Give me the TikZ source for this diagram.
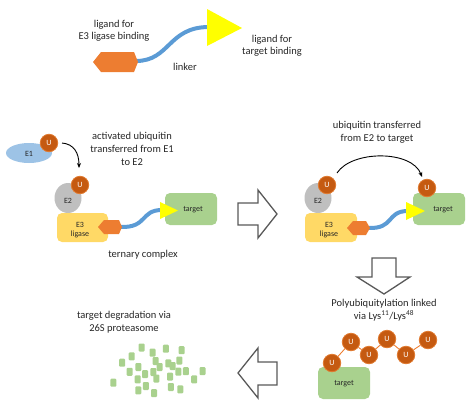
\documentclass[tikz,border=0pt]{standalone}
\usepackage{fontspec}
\setmainfont{Carlito}
\usetikzlibrary{arrows.meta}
\definecolor{txt}{HTML}{262626}
\definecolor{ubqfill}{HTML}{C55A11}
\definecolor{ubqedge}{HTML}{E07A30}
\definecolor{hexc}{HTML}{ED7D31}
\definecolor{linkc}{HTML}{5B9BD5}
\definecolor{tric}{HTML}{FFFF00}
\definecolor{eonec}{HTML}{9DC3E6}
\definecolor{etwoc}{HTML}{BFBFBF}
\definecolor{ethreec}{HTML}{FFD966}
\definecolor{targc}{HTML}{A9D18E}
\definecolor{arrgrey}{HTML}{595959}
\tikzset{
  lbl/.style={align=center, inner sep=0, text=txt},
  small/.style={font=\fontsize{8}{9.5}\selectfont, inner sep=0, text=txt},
  ubq/.style={circle, fill=ubqfill, draw=ubqedge, line width=0.8pt, minimum size=17.5pt, inner sep=0, text=white, font=\fontsize{8}{9}\selectfont},
  linker/.style={draw=linkc, line width=4pt},
  blockarrow/.style={draw=arrgrey, line width=1.3pt, fill=white, line join=miter},
  frag/.style={fill=targc, rounded corners=1pt},
  hexshape/.style={fill=hexc},
  tri/.style={fill=tric},
  targbox/.style={fill=targc, rounded corners=5pt},
  ethree/.style={fill=ethreec, rounded corners=5pt},
  thinarrow/.style={-{Stealth[length=5pt,width=4pt]}, line width=0.9pt, black},
  chainlink/.style={draw=hexc, line width=0.9pt}
}
\begin{document}
\begin{tikzpicture}[x=1pt,y=-1pt, font=\fontsize{10.5}{13}\selectfont]
\useasboundingbox (0,0) rectangle (474,407);

% ---------- top: PROTAC ----------
\coordinate (hexTopR) at (136,61);
\coordinate (triTopL) at (209,27);
\draw[linker] (hexTopR) .. controls (170,61) and (168,27) .. (triTopL);
\fill[hexshape] (93,62) -- (101,52) -- (134,52) -- (138,62) -- (134,72) -- (101,72) -- cycle;
\fill[tri] (207,9) -- (242,28) -- (207,46) -- cycle;
\node[lbl, font=\fontsize{10.5}{12}\selectfont] (ligE3) at (114,31) {ligand for\\E3 ligase binding};
\node[lbl, font=\fontsize{10.5}{12}\selectfont] (ligT) at (272,46) {ligand for\\target binding};
\node[lbl] (linkerlbl) at (185,67) {linker};

% ---------- ternary complex (left) ----------
\fill[eonec] (29,153) ellipse [x radius=23, y radius=10];
\node[small] (E1) at (29,154) {E1};
\node[ubq] (U1) at (49,143) {U};
\node[lbl] (act) at (132,149) {activated ubiquitin\\transferred from E1\\to E2};
\coordinate (arrL1) at (62,143);
\coordinate (arrL2) at (79,168);
\draw[thinarrow] (arrL1) .. controls (74,144) and (79,153) .. (arrL2);

\fill[etwoc] (68,198) ellipse [x radius=13.5, y radius=15];
\node[small] (E2a) at (68,201) {E2};
\node[ubq] (U2) at (80,185) {U};
\fill[ethree] (57,213) rectangle (108,242);
\node[small, align=center] (E3a) at (80,230) {E3\\ligase};
\fill[targbox] (165,193) rectangle (217,225);
\node[small] (tgtA) at (193,210) {target};
\coordinate (hexAR) at (120,227);
\coordinate (triAL) at (162,210);
\draw[linker] (hexAR) .. controls (148,228) and (140,210) .. (triAL);
\fill[hexshape] (98,227) -- (104,220) -- (119,220) -- (122,227) -- (119,234) -- (104,234) -- cycle;
\fill[tri] (160,202) -- (178,210.5) -- (160,219) -- cycle;
\node[lbl] (tern) at (143,255) {ternary complex};

% ---------- block arrow right ----------
\draw[blockarrow] (238,203) -- (258,203) -- (258,190) -- (277,214) -- (258,238) -- (258,225) -- (238,225) -- cycle;

% ---------- ternary complex (right) ----------
\node[lbl] (transf) at (377,132) {ubiquitin transferred\\from E2 to target};
\fill[etwoc] (318,198) ellipse [x radius=13.5, y radius=15];
\node[small] (E2b) at (318,201) {E2};
\fill[ethree] (305,213) rectangle (357,242);
\node[small, align=center] (E3b) at (329,230) {E3\\ligase};
\fill[targbox] (413,193) rectangle (465,225);
\node[small] (tgtB) at (443,210) {target};
\coordinate (hexBR) at (368,228);
\coordinate (triBL) at (408,211);
\draw[linker] (hexBR) .. controls (395,229) and (386,211) .. (triBL);
\fill[hexshape] (347,228) -- (353,221) -- (366,221) -- (370,228) -- (366,235) -- (353,235) -- cycle;
\fill[tri] (406,202) -- (425,211) -- (406,220) -- cycle;
\node[ubq] (U3) at (327,185) {U};
\node[ubq] (U4) at (427,188) {U};
\coordinate (arcS) at (337,173);
\coordinate (arcE) at (422,177);
\draw[thinarrow] (arcS) .. controls (352,150) and (412,150) .. (arcE);

% ---------- block arrow down ----------
\draw[blockarrow] (372,258) -- (396,258) -- (396,277) -- (410,277) -- (384,294) -- (357,277) -- (372,277) -- cycle;

% ---------- polyubiquitylation ----------
\node[lbl] (poly) at (384,310) {Polyubiquitylation linked\\via Lys\textsuperscript{11}/Lys\textsuperscript{48}};
\fill[targbox] (318,367) rectangle (370,399);
\node[small] (tgtC) at (344,384) {target};
\node[ubq] (c1) at (332,363) {U};
\node[ubq] (c2) at (351,342) {U};
\node[ubq] (c3) at (369,355) {U};
\node[ubq] (c4) at (387,339) {U};
\node[ubq] (c5) at (406,355) {U};
\node[ubq] (c6) at (428,340) {U};
\draw[chainlink] (c1) -- (c2);
\draw[chainlink] (c2) -- (c3);
\draw[chainlink] (c3) -- (c4);
\draw[chainlink] (c4) -- (c5);
\draw[chainlink] (c5) -- (c6);

% ---------- block arrow left ----------
\draw[blockarrow] (277,362) -- (258,362) -- (258,348) -- (238,373) -- (258,398) -- (258,385) -- (277,385) -- cycle;

% ---------- degradation ----------
\node[lbl] (degr) at (124,322) {target degradation via\\26S proteasome};
\foreach \px/\py in {141.7/347.5, 165.8/348.7, 181.7/350.2, 152.5/352.7, 131.7/356.3, 122.2/362.7,
  155.7/361, 179.3/360.5, 168.3/363.3, 159.6/367, 172.7/366, 138.3/367,
  129.6/371.8, 145/374.2, 153.3/372, 178.3/371.7, 185.8/371.2, 202.5/371.2,
  170/376.7, 137.7/379.3, 156.3/378.5, 194.2/379.3, 113.3/382.7, 145.8/386,
  170.8/387, 180.3/389.3, 138.3/390.4, 154/393}
  \fill[frag] (\px-3,\py-4) rectangle (\px+3,\py+4);
\end{tikzpicture}
\end{document}
